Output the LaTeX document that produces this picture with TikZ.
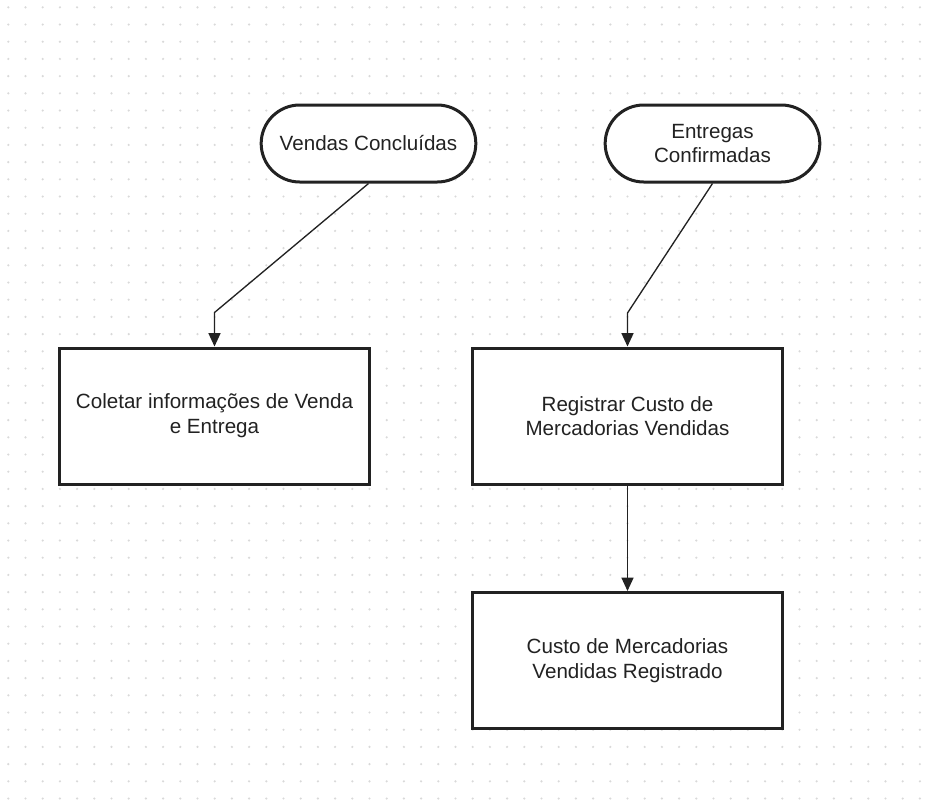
\documentclass[tikz,border=0pt]{standalone}
\usepackage{fontspec}
\setmainfont{Liberation Sans}
\usetikzlibrary{arrows.meta}
\definecolor{ink}{HTML}{222222}
\definecolor{griddot}{HTML}{D9D9D9}

\begin{document}
\begin{tikzpicture}[x=0.75pt, y=-0.75pt,
  term/.style={draw=ink, line width=2.25pt, fill=white, rounded corners=28.9pt,
    minimum width=161pt, minimum height=57.75pt, align=center, text=ink,
    font=\fontsize{15.45}{18.5}\selectfont},
  proc/.style={draw=ink, line width=2.25pt, fill=white,
    minimum width=232pt, minimum height=102pt, align=center, text=ink,
    font=\fontsize{15.45}{18.5}\selectfont},
  flow/.style={-{Triangle[width=9pt,length=10pt]}, ink, line width=1pt}]

\useasboundingbox [fill=white] (0,0) rectangle (926,800);
\foreach \i in {0,...,53}
  \foreach \j in {0,...,46}
    \fill [griddot] (8.3+17.2*\i, 7.3+17.2*\j) circle (0.9pt);

\node [term] (vendas) at (368.5,143.5) {Vendas Concluídas};
\node [term] (entregas) at (712.5,143.5) {Entregas\\Confirmadas};
\node [proc] (coletar) at (214.5,416) {Coletar informações de Venda\\e Entrega};
\node [proc] (registrar) at (627.5,416) {Registrar Custo de\\Mercadorias Vendidas};
\node [proc] (custo) at (627.5,660.5) {Custo de Mercadorias\\Vendidas Registrado};

\coordinate (bendA) at (214.5,312.5);
\coordinate (bendB) at (627.5,313);
\draw [flow] (vendas.south) -- (bendA) -- (coletar.north);
\draw [flow] (entregas.south) -- (bendB) -- (registrar.north);
\draw [flow] (registrar.south) -- (custo.north);

\end{tikzpicture}
\end{document}
